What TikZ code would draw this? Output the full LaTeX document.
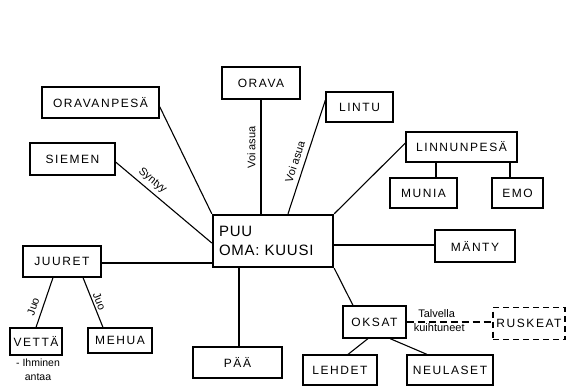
\documentclass[tikz,border=0pt]{standalone}
\usepackage{fontspec}
\setmainfont{Liberation Sans}
\newfontfamily\boxfont[LetterSpace=13]{Liberation Sans}
\newfontfamily\puufont[LetterSpace=5]{Liberation Sans}
\begin{document}
\begin{tikzpicture}[x=1pt,y=-1pt]
\tikzset{
  box/.style={draw, line width=1.2pt, inner sep=0pt,
    font=\boxfont\fontsize{12}{14}\selectfont},
  mainbox/.style={draw, line width=2.4pt, inner xsep=6pt, inner ysep=0pt,
    align=left, text width=108pt, minimum height=52pt,
    font=\puufont\fontsize{15}{19}\selectfont},
  link/.style={line width=1.1pt},
  dashlink/.style={line width=1.1pt, dash pattern=on 7pt off 4pt},
  note/.style={font=\fontsize{11}{12}\selectfont, inner sep=1pt},
}
\fill[white] (0,0) rectangle (567,387);
\useasboundingbox (0,0) rectangle (567,387);

% central concept
\node[mainbox] (puu) at (273,241) {PUU\\OMA: KUUSI};

% upper ring
\node[box, minimum width=117pt, minimum height=31pt] (opesa)  at (100.5,102.5) {ORAVANPESÄ};
\node[box, minimum width=85pt,  minimum height=32pt] (siemen) at (72.5,159)    {SIEMEN};
\node[box, minimum width=78pt,  minimum height=32pt] (orava)  at (261,83)      {ORAVA};
\node[box, minimum width=67pt,  minimum height=30pt] (lintu)  at (359.5,107)   {LINTU};
\node[box, minimum width=111pt, minimum height=30pt] (lpesa)  at (461.5,147)   {LINNUNPESÄ};
\node[box, minimum width=67pt,  minimum height=30pt] (munia)  at (423.5,193)   {MUNIA};
\node[box, minimum width=51pt,  minimum height=30pt] (emo)    at (517.5,193)   {EMO};

% side and lower ring
\node[box, minimum width=80pt,  minimum height=32pt] (manty)  at (475,246)     {MÄNTY};
\node[box, minimum width=78pt,  minimum height=31pt] (juuret) at (62,261.5)    {JUURET};
\node[box, minimum width=52pt,  minimum height=27pt] (vetta)  at (36,341.5)    {VETTÄ};
\node[box, minimum width=64pt,  minimum height=25pt] (mehua)  at (120,340.5)   {MEHUA};
\node[box, minimum width=89pt,  minimum height=31pt] (paa)    at (237.5,362.5) {PÄÄ};
\node[box, minimum width=63pt,  minimum height=32pt] (oksat)  at (374.5,322)   {OKSAT};
\node[box, minimum width=74pt,  minimum height=30pt] (lehdet) at (340,370)     {LEHDET};
\node[box, minimum width=86pt,  minimum height=30pt] (neulaset) at (450,370)   {NEULASET};
\node[box, dash pattern=on 6pt off 4pt, minimum width=72pt, minimum height=32pt] (ruskeat) at (529,323.5) {RUSKEAT};

% note under VETTÄ
\node[note, align=center, font=\fontsize{10.5}{14}\selectfont, anchor=north] (ihminen) at (38,358) {- Ihminen\\antaa};

% connectors from the centre
\draw[link] ([yshift=-4pt]opesa.east) -- (puu.north west);
\draw[link] (orava.south |- puu.north) -- (orava.south)
  node[note, sloped, above=4pt, pos=0.58] (voi1) {Voi asua};
\draw[link] ([xshift=15pt]puu.north) -- ([yshift=7pt]lintu.west)
  node[note, sloped, above=4pt, pos=0.43] (voi2) {Voi asua};
\draw[link] (puu.north east) -- ([yshift=4pt]lpesa.west);
\draw[link] ([yshift=-3pt]siemen.east) -- ([yshift=-2pt]puu.west)
  node[note, sloped, above=3pt, pos=0.32] (syntyy) {Syntyy};
\draw[link] ([yshift=-1.5pt]juuret.east) -- ([yshift=-1.5pt]juuret.east -| puu.west);
\draw[link] ([yshift=1pt]manty.west) -- ([yshift=1pt]manty.west -| puu.east);
\draw[link] ([xshift=1.5pt]paa.north) -- ([xshift=1.5pt]paa.north |- puu.south);
\draw[link] (puu.south east) -- ([xshift=-21.5pt]oksat.north);

% LINNUNPESÄ branches
\draw[link] ([xshift=12.5pt]munia.north) -- ([xshift=12.5pt]munia.north |- lpesa.south);
\draw[link] ([xshift=-7.5pt]emo.north) -- ([xshift=-7.5pt]emo.north |- lpesa.south);

% JUURET branches
\draw[link] (vetta.north) -- ([xshift=-9pt]juuret.south)
  node[note, sloped, above=4pt, pos=0.36] (juo1) {Juo};
\draw[link] ([xshift=21pt]juuret.south) -- ([xshift=-17pt]mehua.north)
  node[note, sloped, above=1pt, pos=0.52] (juo2) {Juo};

% OKSAT branches
\draw[link] ([xshift=-6.5pt]oksat.south) -- ([xshift=8pt]lehdet.north);
\draw[link] ([xshift=15.5pt]oksat.south) -- ([xshift=-23pt]neulaset.north);
\draw[dashlink] (oksat.east) -- (oksat.east -| ruskeat.west)
  node[note, above=3pt, pos=0.35] (talvella) {Talvella}
  node[note, below=0pt, inner sep=0.5pt, pos=0.38] (kuiht) {kuihtuneet};
\end{tikzpicture}
\end{document}
